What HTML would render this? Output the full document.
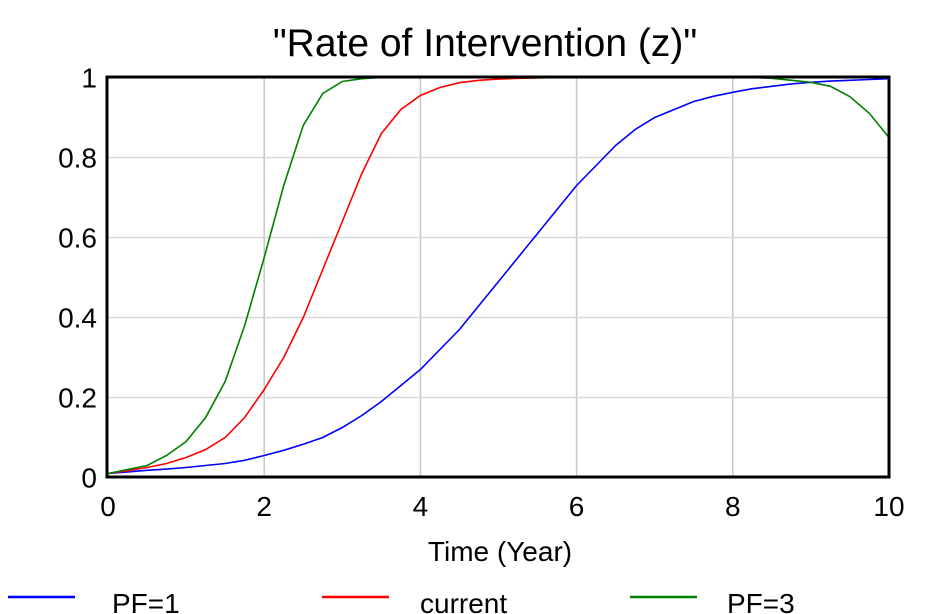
<!DOCTYPE html>
<html><head><meta charset="utf-8"><style>
body{margin:0;background:#fff;}
svg{display:block;font-family:"Liberation Sans",Arial,sans-serif;}
</style></head><body>
<svg id="chart" width="935" height="614">
<text x="485" y="56" font-size="39" text-anchor="middle">"Rate of Intervention (z)"</text>
<g id="grid"></g><g id="series"></g>
<rect x="107" y="77" width="782" height="400" fill="none" stroke="#000" stroke-width="3"/>
<g id="ticks"></g>
<text x="500" y="561" font-size="28" text-anchor="middle">Time (Year)</text>
<g id="legend"></g>
</svg>
<script>
const xTicks=[0,2,4,6,8,10];
const yTicks=[0,0.2,0.4,0.6,0.8,1];
const yTickLabels=["0","0.2","0.4","0.6","0.8","1"];
const times=[0,0.25,0.5,0.75,1,1.25,1.5,1.75,2,2.25,2.5,2.75,3,3.25,3.5,3.75,4,4.25,4.5,4.75,5,5.25,5.5,5.75,6,6.25,6.5,6.75,7,7.25,7.5,7.75,8,8.25,8.5,8.75,9,9.25,9.5,9.75,10];
const pf1=[0.01,0.014,0.018,0.021,0.025,0.03,0.035,0.043,0.055,0.068,0.083,0.1,0.125,0.155,0.19,0.23,0.27,0.32,0.37,0.43,0.49,0.55,0.61,0.67,0.73,0.78,0.83,0.87,0.9,0.92,0.94,0.953,0.963,0.972,0.978,0.984,0.988,0.991,0.993,0.995,0.997];
const current=[0.01,0.017,0.025,0.035,0.05,0.07,0.1,0.15,0.22,0.3,0.4,0.52,0.64,0.76,0.86,0.92,0.955,0.975,0.987,0.993,0.996,0.998,0.999,1,1,1,1,1,1,1,1,1,1,1,1,1,1,1,1,1,1];
const pf3=[0.01,0.02,0.03,0.055,0.09,0.15,0.24,0.38,0.55,0.73,0.88,0.96,0.99,0.997,1,1,1,1,1,1,1,1,1,1,1,1,1,1,1,1,1,1,1,1,0.998,0.993,0.988,0.978,0.952,0.91,0.85];
const seriesNames=["PF=1","current","PF=3"];
const seriesColors=["#0000ff","#ff0000","#008000"];
const NS="http://www.w3.org/2000/svg";
const X=v=>108+v*78.1, Y=v=>477.5-v*400;
function mk(tag,attrs,parent){const e=document.createElementNS(NS,tag);for(const k in attrs)e.setAttribute(k,attrs[k]);parent.appendChild(e);return e;}
const grid=document.getElementById('grid'),ticks=document.getElementById('ticks'),ser=document.getElementById('series'),leg=document.getElementById('legend');
xTicks.forEach(t=>{
 if(t>0&&t<10){const l=mk('line',{x1:X(t),x2:X(t),y1:77,y2:477,stroke:'#c8c8c8','stroke-width':1.5},grid);
 
 }
 const tx=mk('text',{x:X(t),y:516,'font-size':28,'text-anchor':'middle'},ticks);tx.textContent=t;
 
 
});
yTicks.forEach((t,i)=>{
 if(t>0&&t<1){const l=mk('line',{x1:107,x2:889,y1:Y(t),y2:Y(t),stroke:'#d8d8d8','stroke-width':1.5},grid);
 
 }
 const tx=mk('text',{x:97,y:Y(t)+10,'font-size':28,'text-anchor':'end'},ticks);tx.textContent=yTickLabels[i];
 
 
});
[pf1,current,pf3].forEach((d,si)=>{
 const p=mk('polyline',{points:d.map((v,i)=>X(times[i])+','+Y(v)).join(' '),fill:'none',stroke:seriesColors[si],'stroke-width':1.6},ser);
 
 
});
const lx=[8,322,630];
const tx0=[112,420,727];
seriesNames.forEach((n,i)=>{
 const l=mk('line',{x1:lx[i],x2:lx[i]+67,y1:597,y2:597,stroke:seriesColors[i],'stroke-width':2.5},leg);
 
 
 const t=mk('text',{x:tx0[i],y:613,'font-size':28},leg);t.textContent=n;
 
 
});
</script>
</body></html>
